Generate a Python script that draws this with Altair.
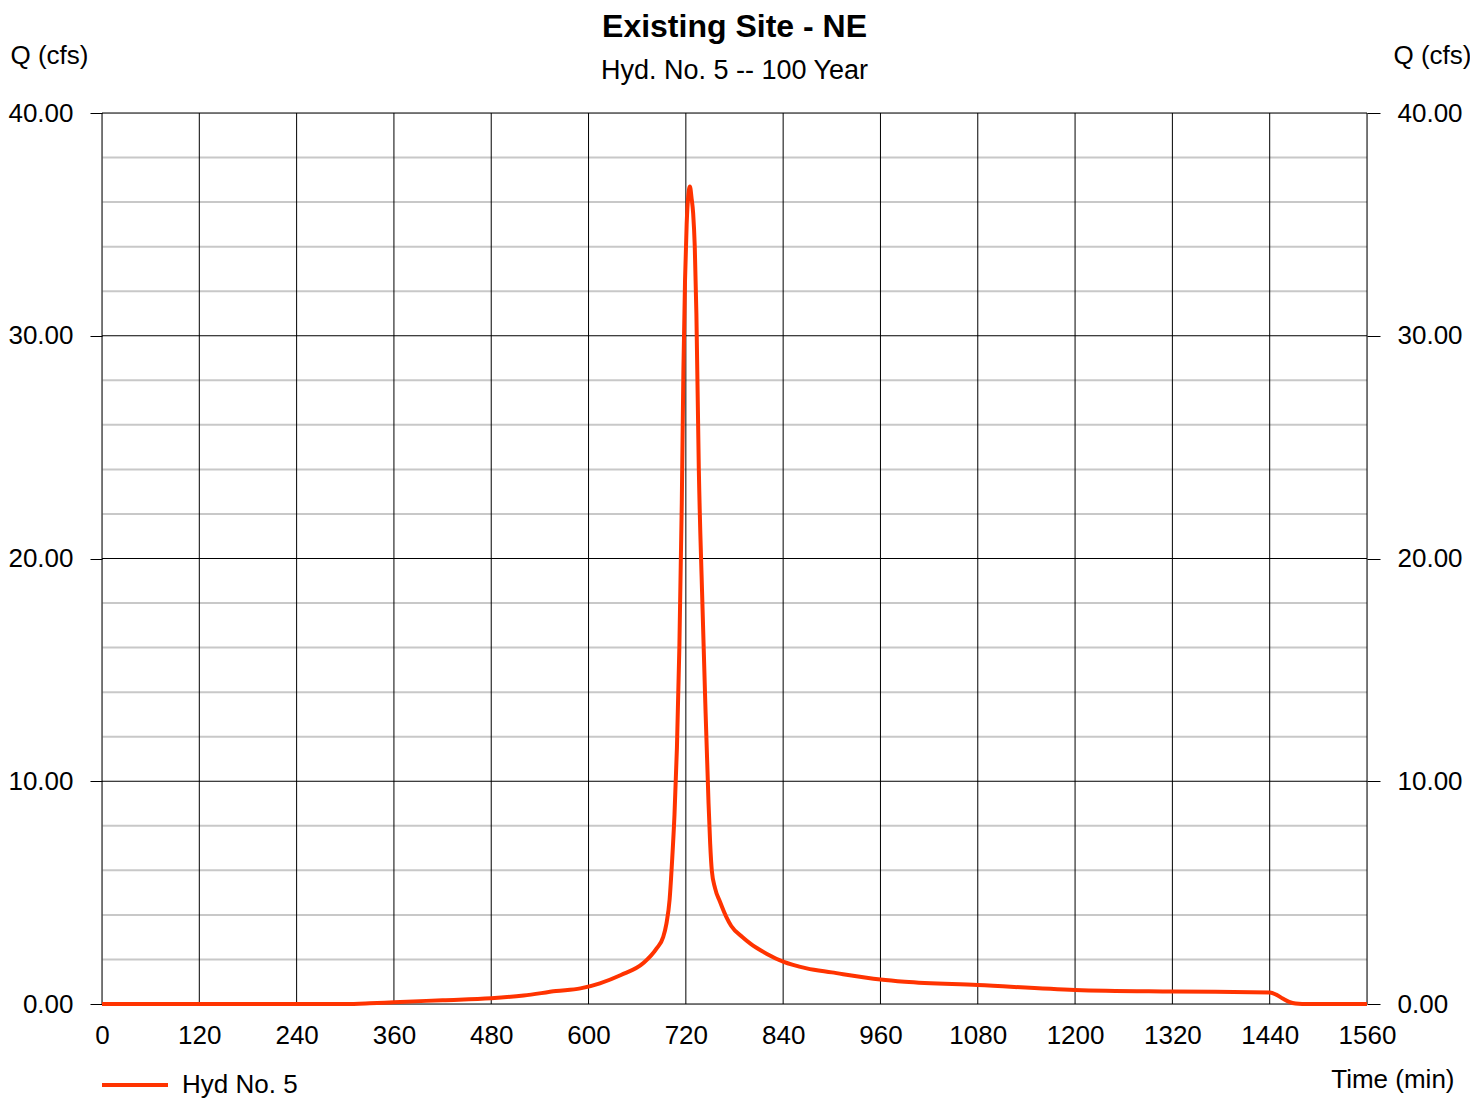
import altair as alt
import pandas as pd

# ---- data ----
time_min = [0, 300, 330, 360, 420, 480, 520, 560, 590, 614, 640, 668, 684, 692,
            696, 700, 703, 706, 709, 712, 715, 717, 719, 721, 723, 725,
            727, 729, 731, 733, 736, 740, 744, 748, 750, 752, 756, 762,
            770, 776, 790, 800, 820, 840, 869, 900, 960, 990, 1080, 1200,
            1320, 1440, 1448, 1456, 1464, 1472, 1480, 1560]
flow_cfs = [0.0, 0.0, 0.03, 0.08, 0.17, 0.26, 0.38, 0.58, 0.70, 0.93, 1.30, 1.85, 2.50, 3.00,
            3.60, 4.70, 6.40, 8.50, 11.5, 16.0, 22.5, 28.5, 32.5, 35.0, 36.3, 36.7,
            36.2, 35.5, 34.0, 31.0, 24.0, 18.5, 13.5, 9.0, 7.2, 6.0, 5.2, 4.6,
            3.9, 3.5, 3.0, 2.7, 2.25, 1.9, 1.6, 1.42, 1.1, 1.0, 0.85, 0.63,
            0.56, 0.52, 0.42, 0.25, 0.10, 0.02, 0.0, 0.0]
series_name = "Hyd No. 5"

x_ticks = list(range(0, 1561, 120))
y_major = [0, 10, 20, 30, 40]
y_minor = [v for v in range(0, 41, 2) if v % 10 != 0]

FONT = "Liberation Sans"

df = pd.DataFrame({"t": time_min, "q": flow_cfs, "series": series_name})
df_vx = pd.DataFrame({"t": x_ticks})
df_major = pd.DataFrame({"q": y_major})
df_minor = pd.DataFrame({"q": y_minor})

xscale = alt.Scale(domain=[0, 1560], nice=False, zero=False)
yscale = alt.Scale(domain=[0, 40], nice=False)

x_axis = alt.Axis(
    values=x_ticks,
    format="d",
    title="Time (min)",
    titleAlign="right",
    titleBaseline="middle",
    titleAngle=0,
    titleX=1352,
    titleY=75,
    titleFont=FONT,
    titleFontSize=26,
    titleFontWeight="normal",
    titleColor="black",
    labelFont=FONT,
    labelFontSize=26,
    labelColor="black",
    labelPadding=18,
    labelFlush=False,
    labelOverlap=False,
    ticks=False,
    domain=False,
    grid=False,
)

minor = alt.Chart(df_minor).mark_rule(color="#c8c8c8", strokeWidth=2).encode(
    y=alt.Y("q:Q", scale=yscale, axis=None)
)

vlines = alt.Chart(df_vx).mark_rule(color="black", strokeWidth=1).encode(
    x=alt.X("t:Q", scale=xscale, axis=x_axis)
)

hlines = alt.Chart(df_major).mark_rule(color="black", strokeWidth=1).encode(
    y=alt.Y(
        "q:Q",
        scale=yscale,
        axis=alt.Axis(
            orient="right",
            values=y_major,
            format=".2f",
            title="Q (cfs)",
            titleAngle=0,
            titleAlign="left",
            titleBaseline="middle",
            titleX=26,
            titleY=-58,
            titleFont=FONT,
            titleFontSize=26,
            titleFontWeight="normal",
            titleColor="black",
            labelFont=FONT,
            labelFontSize=26,
            labelColor="black",
            labelPadding=17,
            tickSize=13,
            tickColor="black",
            tickWidth=1,
            domain=False,
            grid=False,
        ),
    )
)

line = alt.Chart(df).mark_line(strokeWidth=4, interpolate="monotone").encode(
    x=alt.X("t:Q", scale=xscale, axis=x_axis),
    y=alt.Y(
        "q:Q",
        scale=yscale,
        axis=alt.Axis(
            orient="left",
            values=y_major,
            format=".2f",
            title="Q (cfs)",
            titleAngle=0,
            titleAlign="left",
            titleBaseline="middle",
            titleX=-92,
            titleY=-58,
            titleFont=FONT,
            titleFontSize=26,
            titleFontWeight="normal",
            titleColor="black",
            labelFont=FONT,
            labelFontSize=26,
            labelColor="black",
            labelPadding=17,
            tickSize=12,
            tickColor="black",
            tickWidth=1,
            domain=False,
            grid=False,
        ),
    ),
    color=alt.Color(
        "series:N",
        scale=alt.Scale(range=["#ff3300"]),
        legend=alt.Legend(
            title=None,
            orient="none",
            legendX=-2,
            legendY=937,
            padding=0,
            symbolType="stroke",
            symbolSize=4356,
            symbolStrokeWidth=4,
            labelFont=FONT,
            labelFontSize=26,
            labelColor="black",
            labelOffset=12,
        ),
    ),
)

chart = (
    alt.layer(minor, vlines, hlines, line)
    .resolve_scale(y="independent")
    .properties(
        width=1265,
        height=891,
        autosize=alt.AutoSizeParams(type="none"),
        padding={"left": 94, "top": 105, "right": 103, "bottom": 96},
        title=alt.TitleParams(
            text="Existing Site - NE",
            subtitle="Hyd. No. 5 -- 100 Year",
            font=FONT,
            fontSize=32,
            fontWeight="bold",
            color="black",
            subtitleFont=FONT,
            subtitleFontSize=27,
            subtitleColor="black",
            subtitlePadding=14,
            anchor="middle",
            frame="group",
            offset=-43,
        ),
    )
    .configure_view(stroke=None)
    .configure(background="white")
)

chart.save("out.html", embed_options={"renderer": "svg", "actions": False})
